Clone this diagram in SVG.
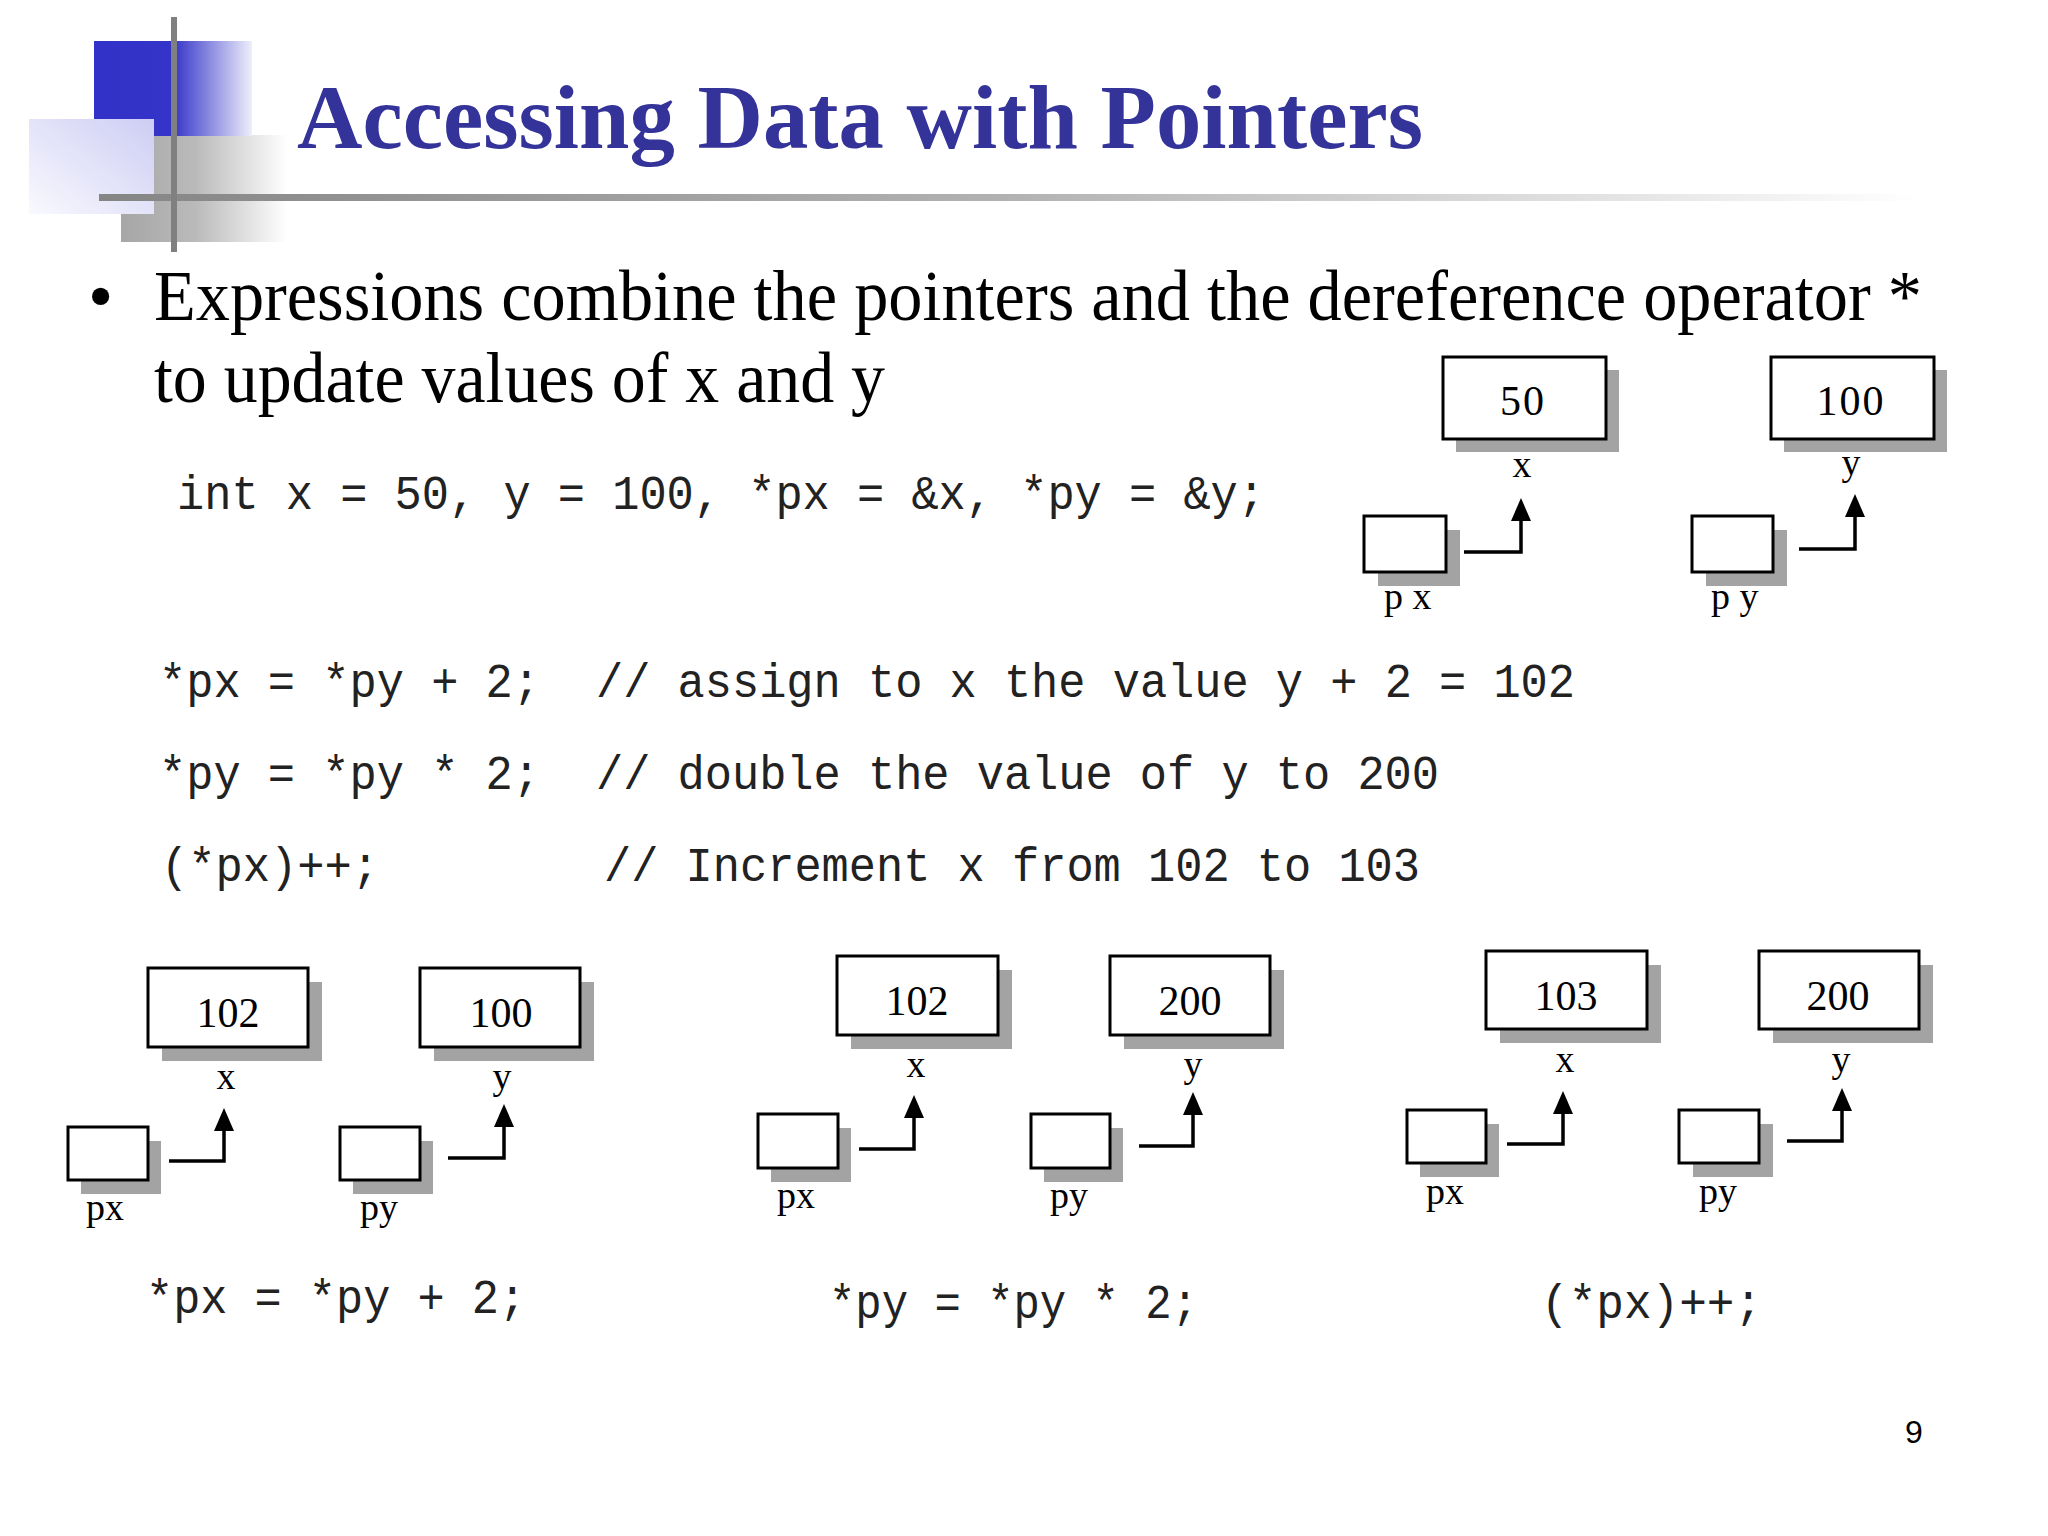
<svg xmlns="http://www.w3.org/2000/svg" width="2048" height="1536" viewBox="0 0 2048 1536">
<defs>
<style>
.title{font-family:"Liberation Serif","Times New Roman",serif;font-weight:bold;font-size:92px;fill:#333399}
.body{font-family:"Liberation Serif","Times New Roman",serif;font-size:72px;fill:#000}
.code{font-family:"Liberation Mono","Courier New",monospace;font-size:48px;fill:#222}
.val{font-family:"Liberation Serif","Times New Roman",serif;font-size:42px;fill:#000;text-anchor:middle}
.lab{font-family:"Liberation Serif","Times New Roman",serif;font-size:38px;fill:#000}
.labc{font-family:"Liberation Serif","Times New Roman",serif;font-size:38px;fill:#000;text-anchor:middle}
.box{fill:#fff;stroke:#000;stroke-width:3}
.shadow{fill:#a3a3a3}
.conn{fill:none;stroke:#000;stroke-width:3.5;stroke-linejoin:miter}
.pg{font-family:"Liberation Sans",Arial,sans-serif;font-size:32px;fill:#000}
</style>
<linearGradient id="blueGrad" x1="0" y1="0" x2="1" y2="0">
<stop offset="0" stop-color="#3232c8"/>
<stop offset="0.5" stop-color="#3434c9"/>
<stop offset="1" stop-color="#eeeefb"/>
</linearGradient>
<linearGradient id="lavGrad" x1="1" y1="0" x2="0" y2="1">
<stop offset="0" stop-color="#cdcdf4"/>
<stop offset="1" stop-color="#f9f9fe"/>
</linearGradient>
<linearGradient id="grayGrad" x1="0" y1="0" x2="1" y2="0">
<stop offset="0" stop-color="#a6a6a6"/>
<stop offset="0.45" stop-color="#bababa"/>
<stop offset="1" stop-color="#ffffff"/>
</linearGradient>
<linearGradient id="lineGrad" x1="0" y1="0" x2="1" y2="0">
<stop offset="0" stop-color="#858585"/>
<stop offset="0.5" stop-color="#b2b2b2"/>
<stop offset="0.85" stop-color="#e6e6e6"/>
<stop offset="1" stop-color="#ffffff"/>
</linearGradient>
<marker id="arrow" markerUnits="userSpaceOnUse" markerWidth="24" markerHeight="20" refX="1" refY="10" orient="auto">
<path d="M0,0 L23,10 L0,20 Z" fill="#000"/>
</marker>
</defs>
<rect width="2048" height="1536" fill="#fff"/>

<g id="decoration">
<rect x="121" y="135" width="166" height="107" fill="url(#grayGrad)"/>
<rect x="94" y="41" width="158" height="95" fill="url(#blueGrad)"/>
<rect x="29" y="119" width="125" height="95" fill="url(#lavGrad)"/>
<rect x="99" y="194" width="1820" height="7" fill="url(#lineGrad)"/>
<rect x="171" y="17" width="6" height="235" fill="#808080"/>
</g>

<text class="title" x="297" y="148" textLength="1126" lengthAdjust="spacingAndGlyphs">Accessing Data with Pointers</text>

<text class="body" x="88" y="320" font-size="66">•</text>
<text class="body" x="154" y="320" textLength="1768" lengthAdjust="spacingAndGlyphs">Expressions combine the pointers and the dereference operator *</text>
<text class="body" x="154" y="402" textLength="731" lengthAdjust="spacingAndGlyphs">to update values of x and y</text>

<g id="code">
<text class="code" x="177" y="509" textLength="1088" lengthAdjust="spacingAndGlyphs">int x = 50, y = 100, *px = &amp;x, *py = &amp;y;</text>
<text class="code" x="159" y="697" textLength="381" lengthAdjust="spacingAndGlyphs">*px = *py + 2;</text>
<text class="code" x="596" y="697" textLength="979" lengthAdjust="spacingAndGlyphs">// assign to x the value y + 2 = 102</text>
<text class="code" x="159" y="789" textLength="381" lengthAdjust="spacingAndGlyphs">*py = *py * 2;</text>
<text class="code" x="596" y="789" textLength="843" lengthAdjust="spacingAndGlyphs">// double the value of y to 200</text>
<text class="code" x="161" y="881" textLength="218" lengthAdjust="spacingAndGlyphs">(*px)++;</text>
<text class="code" x="604" y="881" textLength="816" lengthAdjust="spacingAndGlyphs">// Increment x from 102 to 103</text>
<text class="code" x="146" y="1313" textLength="380" lengthAdjust="spacingAndGlyphs">*px = *py + 2;</text>
<text class="code" x="829" y="1318" textLength="369" lengthAdjust="spacingAndGlyphs">*py = *py * 2;</text>
<text class="code" x="1541" y="1318" textLength="221" lengthAdjust="spacingAndGlyphs">(*px)++;</text>
</g>

<!-- Top group -->
<g id="t-x">
<rect class="shadow" x="1456" y="370" width="163" height="82"/>
<rect class="box" x="1443" y="357" width="163" height="82"/>
<text class="val" x="1523" y="415" font-size="40" letter-spacing="2">50</text>
<text class="labc" x="1522" y="477" font-size="36">x</text>
</g>
<g id="t-y">
<rect class="shadow" x="1784" y="370" width="163" height="82"/>
<rect class="box" x="1771" y="357" width="163" height="82"/>
<text class="val" x="1851" y="415" font-size="40" letter-spacing="2">100</text>
<text class="labc" x="1851" y="475" font-size="36">y</text>
</g>
<g id="t-px">
<rect class="shadow" x="1378" y="530" width="82" height="56"/>
<rect class="box" x="1364" y="516" width="82" height="56"/>
<text class="lab" x="1384" y="609" font-size="36">p x</text>
</g>
<g id="t-py">
<rect class="shadow" x="1706" y="530" width="81" height="56"/>
<rect class="box" x="1692" y="516" width="81" height="56"/>
<text class="lab" x="1711" y="609" font-size="36">p y</text>
</g>

<!-- Group 1 -->
<g id="g1-x">
<rect class="shadow" x="162" y="982" width="160" height="79"/>
<rect class="box" x="148" y="968" width="160" height="79"/>
<text class="val" x="228" y="1027">102</text>
<text class="labc" x="226" y="1089">x</text>
</g>
<g id="g1-y">
<rect class="shadow" x="434" y="982" width="160" height="79"/>
<rect class="box" x="420" y="968" width="160" height="79"/>
<text class="val" x="501" y="1027">100</text>
<text class="labc" x="502" y="1089">y</text>
</g>
<g id="g1-px">
<rect class="shadow" x="81" y="1141" width="80" height="53"/>
<rect class="box" x="68" y="1127" width="80" height="53"/>
<text class="lab" x="86" y="1220">px</text>
</g>
<g id="g1-py">
<rect class="shadow" x="353" y="1141" width="80" height="53"/>
<rect class="box" x="340" y="1127" width="80" height="53"/>
<text class="lab" x="360" y="1220">py</text>
</g>

<!-- Group 2 -->
<g id="g2-x">
<rect class="shadow" x="851" y="970" width="161" height="79"/>
<rect class="box" x="837" y="956" width="161" height="79"/>
<text class="val" x="917" y="1015">102</text>
<text class="labc" x="916" y="1077">x</text>
</g>
<g id="g2-y">
<rect class="shadow" x="1124" y="970" width="160" height="79"/>
<rect class="box" x="1110" y="956" width="160" height="79"/>
<text class="val" x="1190" y="1015">200</text>
<text class="labc" x="1193" y="1077">y</text>
</g>
<g id="g2-px">
<rect class="shadow" x="771" y="1128" width="80" height="54"/>
<rect class="box" x="758" y="1114" width="80" height="54"/>
<text class="lab" x="777" y="1208">px</text>
</g>
<g id="g2-py">
<rect class="shadow" x="1044" y="1128" width="79" height="54"/>
<rect class="box" x="1031" y="1114" width="79" height="54"/>
<text class="lab" x="1050" y="1208">py</text>
</g>

<!-- Group 3 -->
<g id="g3-x">
<rect class="shadow" x="1500" y="965" width="161" height="78"/>
<rect class="box" x="1486" y="951" width="161" height="78"/>
<text class="val" x="1566" y="1010">103</text>
<text class="labc" x="1565" y="1072">x</text>
</g>
<g id="g3-y">
<rect class="shadow" x="1773" y="965" width="160" height="78"/>
<rect class="box" x="1759" y="951" width="160" height="78"/>
<text class="val" x="1838" y="1010">200</text>
<text class="labc" x="1841" y="1072">y</text>
</g>
<g id="g3-px">
<rect class="shadow" x="1420" y="1124" width="79" height="53"/>
<rect class="box" x="1407" y="1110" width="79" height="53"/>
<text class="lab" x="1426" y="1204">px</text>
</g>
<g id="g3-py">
<rect class="shadow" x="1693" y="1124" width="80" height="53"/>
<rect class="box" x="1679" y="1110" width="80" height="53"/>
<text class="lab" x="1699" y="1204">py</text>
</g>

<g id="connectors">
<path class="conn" d="M1464,552 H1521 V520" marker-end="url(#arrow)"/>
<path class="conn" d="M1799,549 H1855 V516" marker-end="url(#arrow)"/>
<path class="conn" d="M169,1161 H224 V1130" marker-end="url(#arrow)"/>
<path class="conn" d="M448,1158 H504 V1126" marker-end="url(#arrow)"/>
<path class="conn" d="M859,1149 H914 V1117" marker-end="url(#arrow)"/>
<path class="conn" d="M1139,1146 H1193 V1114" marker-end="url(#arrow)"/>
<path class="conn" d="M1507,1144 H1563 V1113" marker-end="url(#arrow)"/>
<path class="conn" d="M1787,1141 H1842 V1110" marker-end="url(#arrow)"/>
</g>

<text class="pg" x="1905" y="1443">9</text>
</svg>
